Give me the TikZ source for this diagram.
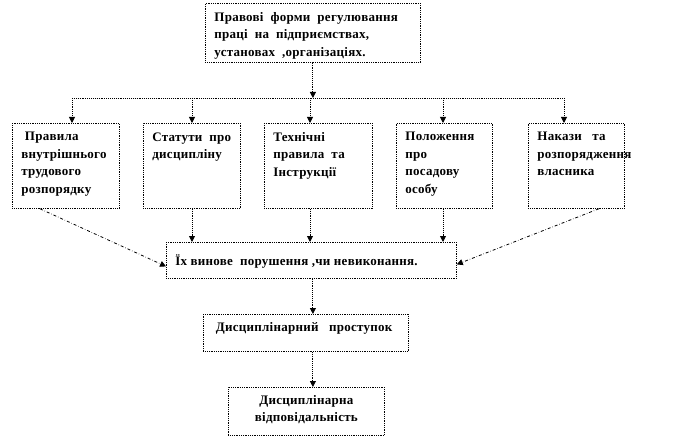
\documentclass[tikz,border=0pt]{standalone}
\usepackage{fontspec}
\setmainfont{Liberation Serif}
\usetikzlibrary{arrows.meta, positioning}
\newcommand{\boxtext}[4]{\parbox[t][#1][t]{#2}{\raggedright\vspace*{#3}#4}}

\begin{document}
\begin{tikzpicture}[x=1pt, y=-1pt, >={Triangle[length=6pt,width=6pt]},
  frame/.style={draw, densely dotted, line width=0.8pt, inner xsep=9pt, inner ysep=0pt, anchor=north west,
    font=\bfseries\fontsize{13}{17.5}\selectfont\addfontfeature{LetterSpace=2}},
  link/.style={->, densely dotted, line width=0.9pt},
  slant/.style={->, dash dot, line width=0.8pt}]
\useasboundingbox (0,0) rectangle (688,441);
\node[frame] (top) at (205,3) {\boxtext{59pt}{197pt}{9pt}{Правові\ \ форми\ \ регулювання\\праці\ \ на\ \ підприємствах,\\установах\ \ ,організаціях.}};
\node[frame] (r1) at (12,123)  {\boxtext{85pt}{89pt}{9pt}{\ Правила\\внутрішнього\\трудового\\розпорядку}};
\node[frame] (r2) at (143,123) {\boxtext{85pt}{79pt}{9pt}{Статути\ \ про\\дисципліну}};
\node[frame] (r3) at (264,123) {\boxtext{85pt}{90pt}{9pt}{Технічні\\правила\ \ та\\Інструкції}};
\node[frame] (r4) at (396,123) {\boxtext{85pt}{78pt}{9pt}{Положення\\про\\посадову\\особу}};
\node[frame] (r5) at (528,123) {\boxtext{85pt}{78pt}{9pt}{Накази\ \ \ та\\розпорядження\\власника}};
\node[frame] (mid) at (166,242) {\boxtext{36pt}{272pt}{12pt}{Їх винове\ \ порушення ,чи невиконання.}};
\node[frame] (disc) at (203,314) {\boxtext{37pt}{187pt}{8pt}{\ Дисциплінарний\ \ \ проступок}};
\node[frame] (resp) at (228,387) {\boxtext{48pt}{138pt}{8pt}{\centering Дисциплінарна\\відповідальність}};
\coordinate (d1) at (72,98);
\coordinate (d2) at (192,98);
\coordinate (d3) at (310,98);
\coordinate (d4) at (443,98);
\coordinate (d5) at (564,98);
\draw[link] (top.south) -- (top.south |- d3);
\draw[densely dotted, line width=0.9pt] (d1) -- (d5);
\foreach \i in {1,...,5} \draw[link] (d\i) -- (d\i |- r\i.north);
\foreach \i in {2,3,4} \draw[link] (d\i |- r\i.south) -- (d\i |- mid.north);
\draw[slant] (r1.south west) ++(28,0) -- ([yshift=-6pt]mid.west);
\draw[slant] (r5.south east) ++(-26,0) -- ([yshift=-4pt]mid.east);
\draw[link] (top.south |- mid.south) -- (top.south |- disc.north);
\draw[link] (top.south |- disc.south) -- (top.south |- resp.north);
\end{tikzpicture}
\end{document}
